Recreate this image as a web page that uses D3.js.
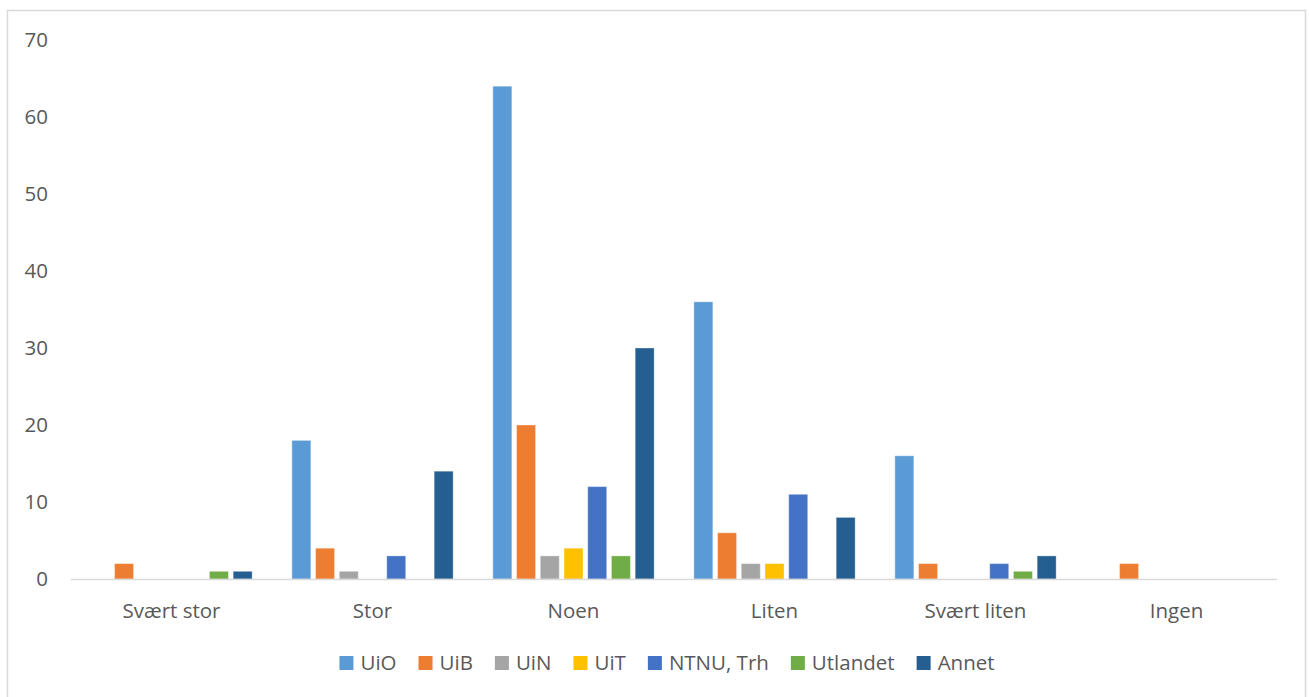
<!DOCTYPE html>
<html>
<head>
<meta charset="utf-8">
<script src="https://cdn.jsdelivr.net/npm/d3@7"></script>
<style>
  body { margin: 0; background: #fff; }
  text { font-family: "Open Sans", sans-serif; fill: #595959; }
</style>
</head>
<body>
<svg id="chart"></svg>
<script>
//categories and series
var categories = ['Svært stor', 'Stor', 'Noen', 'Liten', 'Svært liten', 'Ingen'];
var seriesNames = ['UiO', 'UiB', 'UiN', 'UiT', 'NTNU, Trh', 'Utlandet', 'Annet'];
var colors = ['#5B9BD5', '#ED7D31', '#A5A5A5', '#FFC000', '#4472C4', '#70AD47', '#255E91'];

//values per series, in category order
var uio      = [0, 18, 64, 36, 16, 0];
var uib      = [2, 4, 20, 6, 2, 2];
var uin      = [0, 1, 3, 2, 0, 0];
var uit      = [0, 0, 4, 2, 0, 0];
var ntnu     = [0, 3, 12, 11, 2, 0];
var utlandet = [1, 0, 3, 0, 1, 0];
var annet    = [1, 14, 30, 8, 3, 0];

var yTicks = [0, 10, 20, 30, 40, 50, 60, 70];

var seriesValues = [uio, uib, uin, uit, ntnu, utlandet, annet];

function drawChart() {
    //chart parameters
    var svg = d3.select('#chart')
        .attr('width', 1309)
        .attr('height', 697);

    //outer frame
    svg.append('rect')
        .attr('x', 7.5)
        .attr('y', 10.5)
        .attr('width', 1298)
        .attr('height', 700)
        .attr('fill', 'none')
        .attr('stroke', '#d9d9d9')
        .attr('stroke-width', 1.5);

    //define plot extent
    var plotLeft = 71, plotRight = 1277, plotTop = 40, plotBottom = 579;
    var fontSize = '20.5px';

    //define scales
    var x0 = d3.scaleBand().domain(categories).range([plotLeft, plotRight]).paddingInner(0.174).paddingOuter(0.087);
    var x1 = d3.scaleBand().domain(seriesNames).range([0, x0.bandwidth()]).paddingInner(0.2).paddingOuter(0.1);
    var y = d3.scaleLinear().domain([0, 70]).range([plotBottom, plotTop]);

    //y axis labels
    svg.append('g')
        .selectAll('text')
        .data(yTicks)
        .enter().append('text')
            .attr('x', 48)
            .attr('y', d => y(d))
            .attr('dy', '0.35em')
            .attr('text-anchor', 'end')
            .style('font-size', fontSize)
            .text(d => d);

    //bars
    var groups = svg.append('g')
        .selectAll('g')
        .data(categories)
        .enter().append('g')
            .attr('transform', d => 'translate(' + x0(d) + ',0)');

    groups.selectAll('rect')
        .data((c, ci) => seriesNames.map((s, si) => ({s: s, si: si, v: seriesValues[si][ci]})).filter(d => d.v > 0))
        .enter().append('rect')
            .attr('x', d => x1(d.s))
            .attr('y', d => y(d.v))
            .attr('width', x1.bandwidth())
            .attr('height', d => y(0) - y(d.v))
            .attr('fill', d => colors[d.si])
            .attr('stroke', '#fff')
            .attr('stroke-opacity', 0.35)
            .attr('stroke-width', 1);

    //x axis line
    svg.append('line')
        .attr('x1', plotLeft)
        .attr('x2', plotRight)
        .attr('y1', y(0) + 0.5)
        .attr('y2', y(0) + 0.5)
        .attr('stroke', '#d9d9d9')
        .attr('stroke-width', 1.5);

    //category labels
    svg.append('g')
        .selectAll('text')
        .data(categories)
        .enter().append('text')
            .attr('x', d => x0(d) + x0.bandwidth() / 2)
            .attr('y', 618)
            .attr('text-anchor', 'middle')
            .style('font-size', fontSize)
            .text(d => d);

    //legend
    var legend = svg.append('g');
    var item = legend.selectAll('g')
        .data(seriesNames)
        .enter().append('g');

    item.append('rect')
        .attr('width', 14)
        .attr('height', 14)
        .attr('y', 656)
        .attr('fill', (d, i) => colors[i]);

    item.append('text')
        .attr('x', 21)
        .attr('y', 663)
        .attr('dy', '0.35em')
        .style('font-size', fontSize)
        .text(d => d);

    //lay legend items out in a row, centered
    var pos = 0, gap = 22;
    item.each(function() {
        var w = 21 + this.querySelector('text').getComputedTextLength();
        d3.select(this).attr('transform', 'translate(' + pos + ',0)');
        pos += w + gap;
    });
    var total = pos - gap;
    legend.attr('transform', 'translate(' + (667 - total / 2) + ',0)');
}

drawChart();
</script>
</body>
</html>
